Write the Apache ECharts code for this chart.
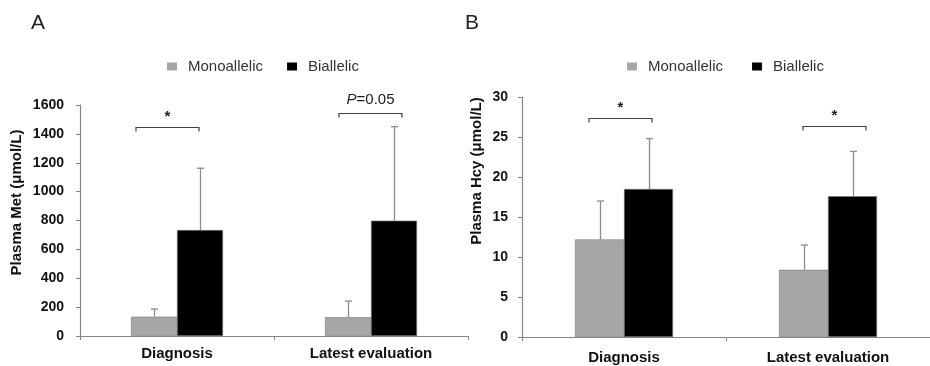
<!DOCTYPE html>
<html>
<head>
<meta charset="utf-8">
<script src="https://cdn.jsdelivr.net/npm/echarts@6/dist/echarts.min.js"></script>
<style>
  html, body { margin: 0; padding: 0; background: #fff; }
  #chart { width: 930px; height: 366px; }
</style>
</head>
<body>
<div id="chart"></div>
<script>
// data
const categories = ['Diagnosis', 'Latest evaluation'];
const groups = ['Monoallelic', 'Biallelic'];

// A: plasma Met (umol/L), mean and top of the SD whisker
const metMono = [134, 130];
const metMonoTop = [187, 242];
const metBi = [734, 799];
const metBiTop = [1162, 1450];
const metTicks = { min: 0, max: 1600, interval: 200 };
const metSigText = ['*', '{i|P}=0.05'];
const metSigLevel = [1445, 1542];

// B: plasma Hcy (umol/L)
const hcyMono = [12.2, 8.4];
const hcyMonoTop = [17.0, 11.5];
const hcyBi = [18.5, 17.6];
const hcyBiTop = [24.8, 23.2];
const hcyTicks = { min: 0, max: 30, interval: 5 };
const hcySigText = ['*', '*'];
const hcySigLevel = [27.4, 26.4];

// bracket ends, px from the category centre (layout, not data)
const metBracketPx = [[-41, 22], [-32, 31]];
const hcyBracketPx = [[-35, 28], [-25, 38]];

const FONT = 'Liberation Sans, Arial, sans-serif';
const GREY = '#a6a6a6';
const WHISKER = '#8c8c8c';
const AXIS = '#868686';

const myChart = echarts.init(document.getElementById('chart'));

// error whisker drawn on top of a bar; side -1 = left bar, +1 = right bar
const whisker = (idx, mean, top, side, barW) => ({
  type: 'custom',
  xAxisIndex: idx,
  yAxisIndex: idx,
  silent: true,
  z: 3,
  data: categories.map((c, i) => [i, mean[i], top[i]]),
  renderItem: (params, api) => {
    const base = api.coord([api.value(0), api.value(1)]);
    const tip = api.coord([api.value(0), api.value(2)]);
    const x = Math.round(base[0] + side * barW / 2) + 0.5;
    const st = { stroke: WHISKER, lineWidth: 1.3 };
    return {
      type: 'group',
      children: [
        { type: 'line', shape: { x1: x, y1: base[1], x2: x, y2: tip[1] }, style: st },
        { type: 'line', shape: { x1: x - 3.5, y1: tip[1], x2: x + 3.5, y2: tip[1] }, style: st },
      ],
    };
  },
});

// significance bracket with its label
const bracket = (idx, level, texts, span) => ({
  type: 'custom',
  xAxisIndex: idx,
  yAxisIndex: idx,
  silent: true,
  z: 4,
  data: categories.map((c, i) => [i, level[i]]),
  renderItem: (params, api) => {
    const i = params.dataIndex;
    const p = api.coord([api.value(0), api.value(1)]);
    const y = Math.round(p[1]) + 0.5;
    const x1 = p[0] + span[i][0];
    const x2 = p[0] + span[i][1];
    const st = { stroke: '#404040', lineWidth: 1.2, fill: null };
    const star = texts[i] === '*';
    return {
      type: 'group',
      children: [
        { type: 'polyline', shape: { points: [[x1, y + 4], [x1, y], [x2, y], [x2, y + 4]] }, style: st },
        {
          type: 'text',
          x: (x1 + x2) / 2,
          y: star ? y - 3 : y - 6,
          style: {
            text: texts[i],
            align: 'center',
            verticalAlign: 'bottom',
            fontFamily: FONT,
            fontSize: 15,
            fontWeight: star ? 'bold' : 'normal',
            fill: '#222',
            rich: { i: { fontStyle: 'italic', fontFamily: FONT, fontSize: 15, fill: '#222' } },
          },
        },
      ],
    };
  },
});

const xAxisBase = (idx, margin) => ({
  type: 'category',
  gridIndex: idx,
  data: categories,
  axisLine: { lineStyle: { color: AXIS, width: 1.2 } },
  axisTick: { show: true, length: 4, lineStyle: { color: AXIS } },
  axisLabel: { color: '#111', fontFamily: FONT, fontWeight: 'bold', fontSize: 15, margin },
});

const yAxisBase = (idx, name, ticks, gap, pad, margin) => ({
  type: 'value',
  gridIndex: idx,
  min: ticks.min,
  max: ticks.max,
  interval: ticks.interval,
  name,
  nameLocation: 'middle',
  nameGap: gap,
  nameTextStyle: { color: '#111', fontFamily: FONT, fontWeight: 'bold', fontSize: 15, padding: pad },
  axisLine: { show: true, lineStyle: { color: AXIS, width: 1.2 } },
  axisTick: { show: true, length: 4, lineStyle: { color: AXIS } },
  splitLine: { show: false },
  axisLabel: {
    color: '#111', fontFamily: FONT, fontWeight: 'bold', fontSize: 14, margin,
    formatter: (v) => String(v),
  },
});

const barBase = (idx, name, data, color, w) => ({
  type: 'bar',
  name,
  xAxisIndex: idx,
  yAxisIndex: idx,
  data,
  barWidth: w,
  barGap: '0%',
  itemStyle: { color, borderColor: '#7a7a7a', borderWidth: 0.6 },
});

const legendBase = (left, gap) => ({
  data: groups,
  left,
  top: 54,
  icon: 'rect',
  itemWidth: 10,
  itemHeight: 8,
  itemGap: gap,
  selectedMode: false,
  itemStyle: { borderWidth: 0 },
  textStyle: { color: '#333', fontFamily: FONT, fontSize: 15, padding: [0, 0, 0, 6] },
});

const option = {
  animation: false,
  title: [
    { text: 'A', left: 26, top: 8, textStyle: { fontFamily: FONT, fontWeight: 'normal', fontSize: 21, color: '#222' } },
    { text: 'B', left: 460, top: 8, textStyle: { fontFamily: FONT, fontWeight: 'normal', fontSize: 21, color: '#222' } },
  ],
  legend: [legendBase(162, 24), legendBase(622, 29)],
  grid: [
    { left: 80, right: 462, top: 105, bottom: 30 },
    { left: 522, right: -7, top: 97, bottom: 29 },
  ],
  xAxis: [xAxisBase(0, 10), xAxisBase(1, 13)],
  yAxis: [
    yAxisBase(0, 'Plasma Met (μmol/L)', metTicks, 56, [0, 0, 0, 36], 16),
    yAxisBase(1, 'Plasma Hcy (μmol/L)', hcyTicks, 38, [0, 0, 0, 92], 14),
  ],
  series: [
    barBase(0, groups[0], metMono, GREY, 46),
    barBase(0, groups[1], metBi, '#000', 46),
    barBase(1, groups[0], hcyMono, GREY, 49),
    barBase(1, groups[1], hcyBi, '#000', 49),
    whisker(0, metMono, metMonoTop, -1, 46),
    whisker(0, metBi, metBiTop, 1, 46),
    whisker(1, hcyMono, hcyMonoTop, -1, 49),
    whisker(1, hcyBi, hcyBiTop, 1, 49),
    bracket(0, metSigLevel, metSigText, metBracketPx),
    bracket(1, hcySigLevel, hcySigText, hcyBracketPx),
  ],
};

myChart.setOption(option);
</script>
</body>
</html>
